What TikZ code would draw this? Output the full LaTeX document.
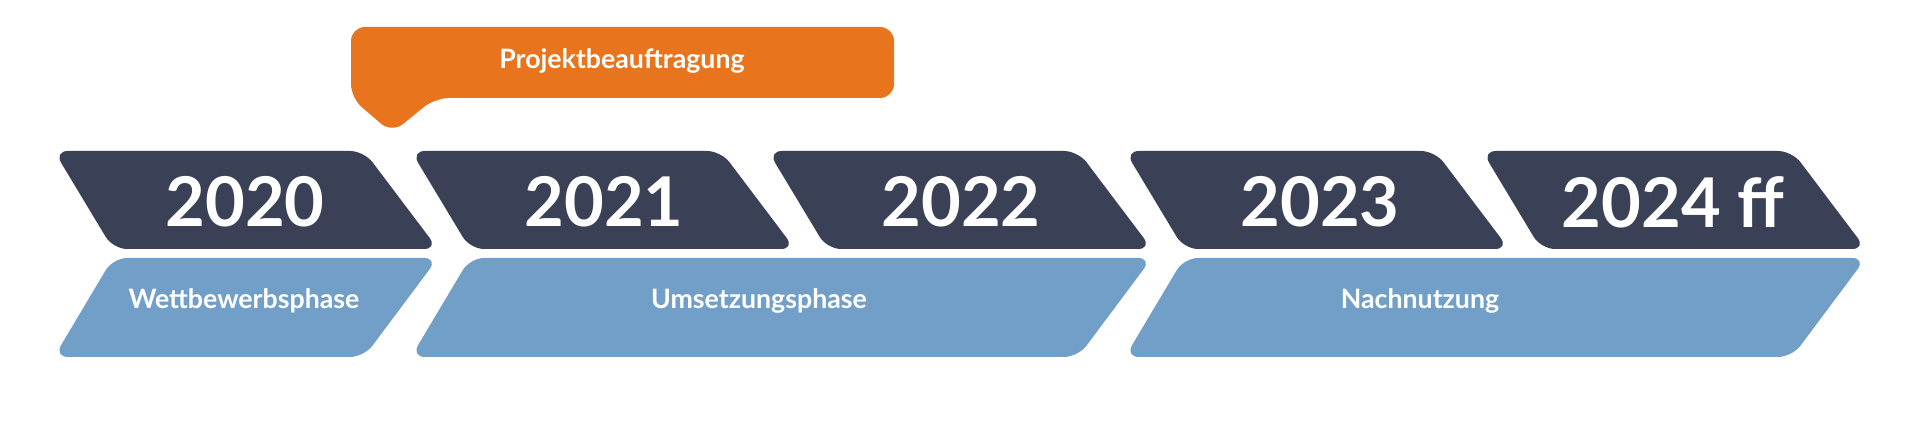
\documentclass[tikz,border=0pt]{standalone}
\usepackage{fontspec}
\setmainfont{Lato}
\definecolor{dark}{HTML}{3A4055}
\definecolor{light}{HTML}{729FC8}
\definecolor{orng}{HTML}{E8751E}
\begin{document}
\begin{tikzpicture}[x=0.01cm,y=-0.01cm,
  year/.style={text=white,font=\bfseries\fontsize{19.5}{20}\selectfont},
  phase/.style={text=white,font=\bfseries\fontsize{7.6}{8}\selectfont},
  darkbox/.style={fill=dark,rounded corners=0.14cm},
  lightbox/.style={fill=light,rounded corners=0.14cm}]
\useasboundingbox (0,0) rectangle (1920,422);
\foreach \L in {54,411,768,1125,1482}{
  \path[darkbox] (\L,151) -- (\L+310,151) -- (\L+384,249) -- (\L+59,249) -- cycle;
}
\path[lightbox] (113,258) -- (438,258) -- (364,357) -- (54,357) -- cycle;
\path[lightbox] (470,258) -- (1152,258) -- (1078,357) -- (411,357) -- cycle;
\path[lightbox] (1184,258) -- (1866,258) -- (1792,357) -- (1125,357) -- cycle;
\path[fill=orng,rounded corners=0.14cm] (351,27) -- (894,27) -- (894,98) -- (435,98) -- (392,133) -- (351,98) -- cycle;
\node[year] (y0) at (245,202) {2020};
\node[year] (y1) at (604,202) {2021};
\node[year] (y2) at (961,202) {2022};
\node[year] (y3) at (1320,202) {2023};
\node[year] (y4) at (1673,202) {2024 ff};
\node[phase] (p0) at (244,301) {Wettbewerbsphase};
\node[phase] (p1) at (759,301) {Umsetzungsphase};
\node[phase] (p2) at (1420,301) {Nachnutzung};
\node[phase] (pb) at (622,61) {Projektbeauftragung};
\end{tikzpicture}
\end{document}
